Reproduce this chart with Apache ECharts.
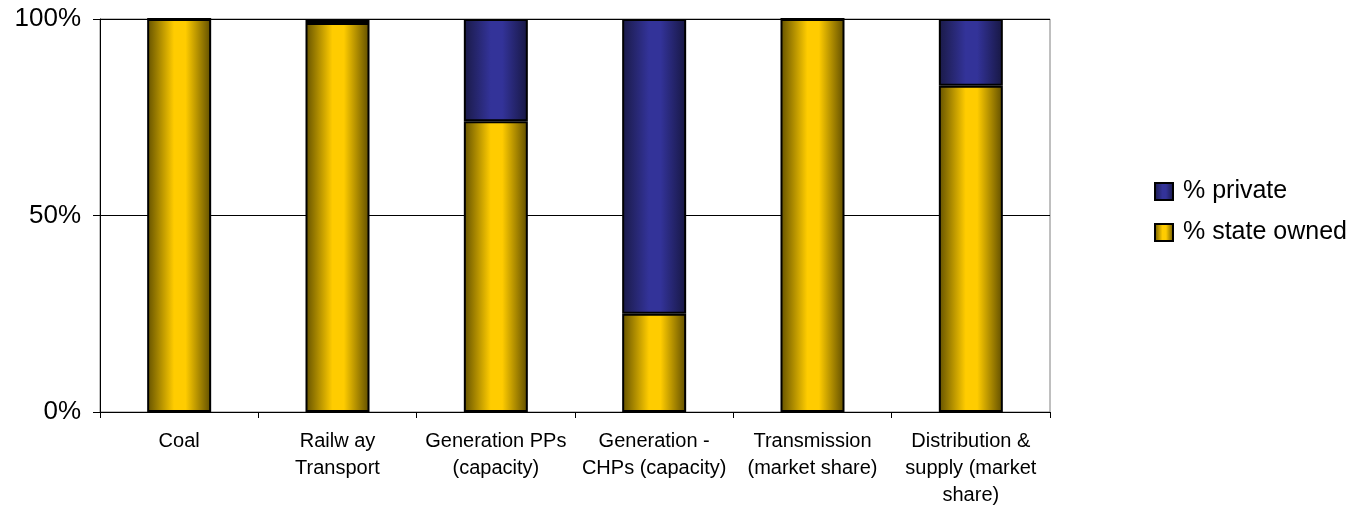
<!DOCTYPE html>
<html>
<head>
<meta charset="utf-8">
<script src="https://cdn.jsdelivr.net/npm/echarts@6/dist/echarts.min.js"></script>
<style>
  html, body { margin: 0; padding: 0; background: #ffffff; }
  #chart { width: 1361px; height: 509px; }
</style>
</head>
<body>
<div id="chart"></div>
<script>
// Ownership structure by sector (share of total, %)
const categories = [
  'Coal',
  'Railw ay\nTransport',
  'Generation PPs\n(capacity)',
  'Generation -\nCHPs (capacity)',
  'Transmission\n(market share)',
  'Distribution &\nsupply (market\nshare)'
];
const stateOwned = [100, 99, 74, 25, 100, 83];
const privateShare = [0, 1, 26, 75, 0, 17];
const yTicks = [0, 50, 100];

// Cylinder-like horizontal shading for the bars
function shade(edgeL, mid, edgeR) {
  return {
    type: 'linear', x: 0, y: 0, x2: 1, y2: 0,
    colorStops: [
      { offset: 0, color: edgeL },
      { offset: 0.42, color: mid },
      { offset: 0.6, color: mid },
      { offset: 1, color: edgeR }
    ]
  };
}

const font = '"Liberation Sans", Arial, sans-serif';
const chart = echarts.init(document.getElementById('chart'));

chart.setOption({
  animation: false,
  backgroundColor: '#ffffff',
  textStyle: { fontFamily: font, color: '#000' },
  grid: {
    left: 100, right: 311, top: 19, bottom: 97,
    show: true, borderColor: '#808080', borderWidth: 1
  },
  legend: {
    orient: 'vertical',
    left: 1149, top: 174,
    itemWidth: 18, itemHeight: 17, itemGap: 16,
    icon: 'rect',
    data: ['% private', '% state owned'],
    textStyle: { fontSize: 25, color: '#000', fontFamily: font, padding: [0, 0, 0, 5] }
  },
  xAxis: {
    type: 'category',
    data: categories,
    axisLine: { lineStyle: { color: '#000', width: 1 } },
    axisTick: { show: true, length: 6, lineStyle: { color: '#000' } },
    axisLabel: {
      interval: 0, fontSize: 20, lineHeight: 27, margin: 16,
      color: '#000', fontFamily: font, align: 'center'
    }
  },
  yAxis: {
    type: 'value',
    min: yTicks[0], max: yTicks[yTicks.length - 1], interval: 50,
    axisLine: { show: true, lineStyle: { color: '#000', width: 1 } },
    axisTick: { show: true, length: 7, lineStyle: { color: '#000' } },
    axisLabel: { formatter: '{value}%', fontSize: 26, margin: 19, color: '#000', fontFamily: font },
    splitLine: { show: true, lineStyle: { color: '#000', width: 1 } }
  },
  series: [
    {
      name: '% state owned',
      type: 'bar',
      stack: 'own',
      barWidth: 64,
      data: stateOwned,
      itemStyle: {
        color: shade('#635100', '#ffcc00', '#5f4d00'),
        borderColor: '#000', borderWidth: 2
      }
    },
    {
      name: '% private',
      type: 'bar',
      stack: 'own',
      barWidth: 64,
      data: privateShare,
      itemStyle: {
        color: shade('#1a1a47', '#333399', '#171742'),
        borderColor: '#000', borderWidth: 2
      }
    }
  ]
});
</script>
</body>
</html>
